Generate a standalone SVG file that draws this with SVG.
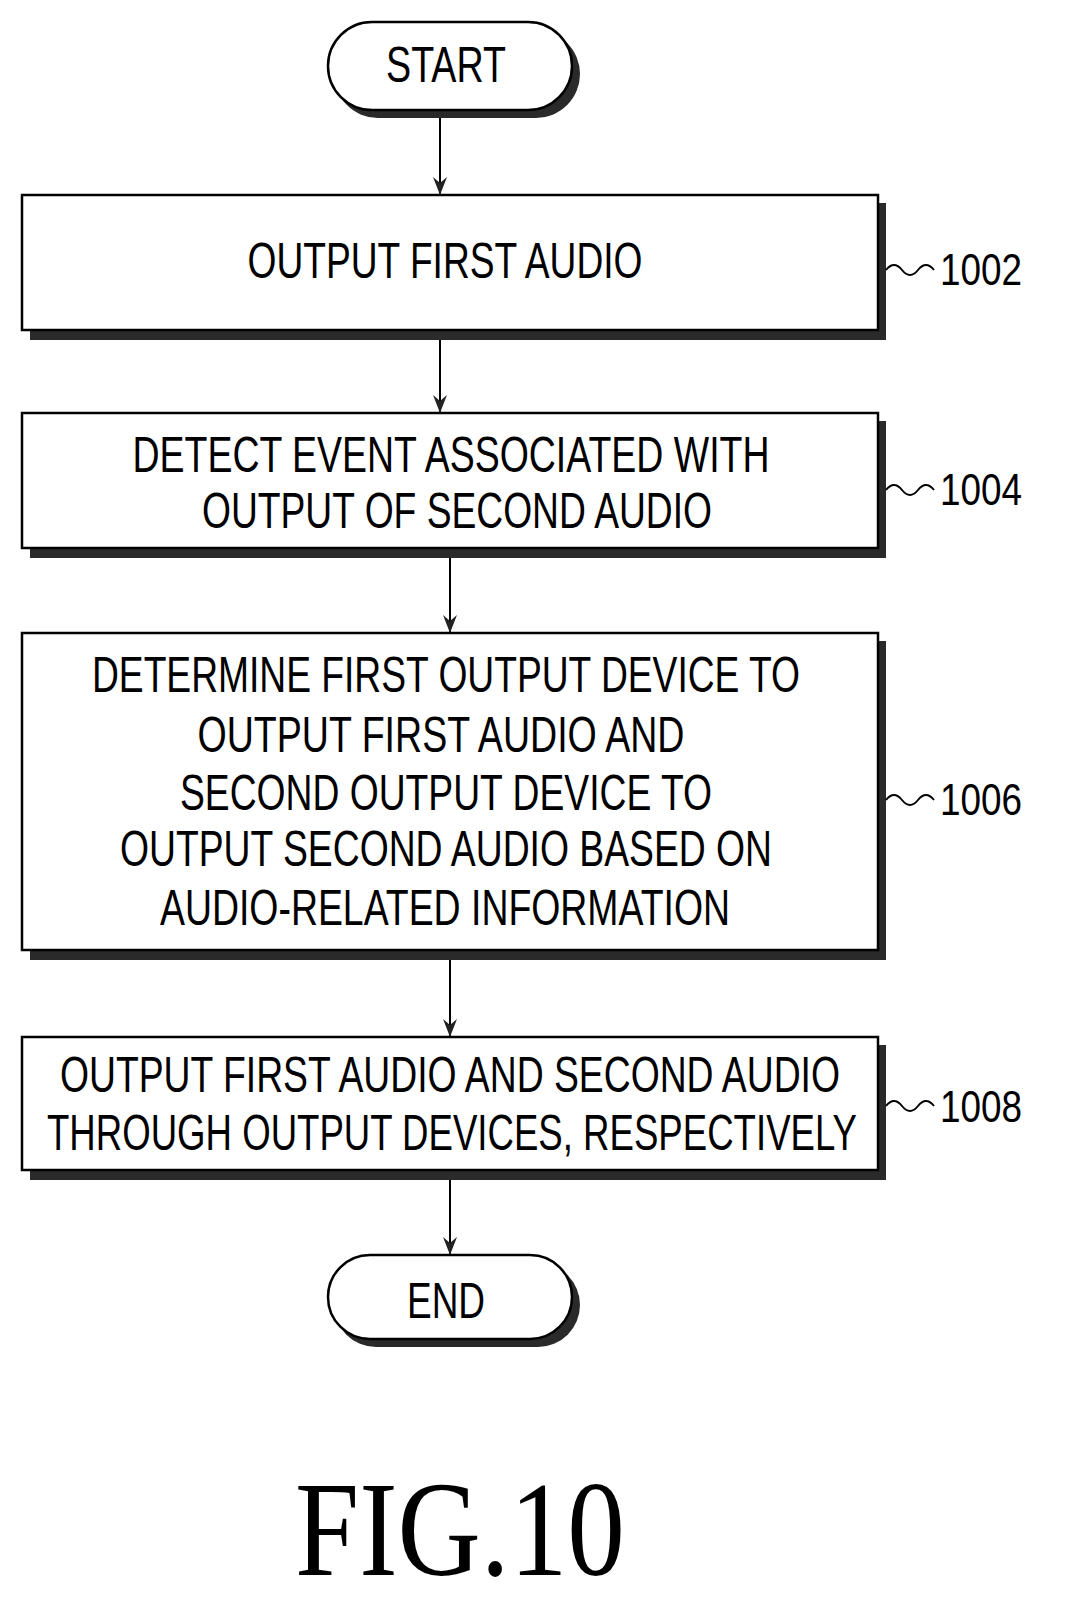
<svg xmlns="http://www.w3.org/2000/svg" width="1066" height="1607" viewBox="0 0 1066 1607">
<style>
.sh{fill:#2a2a2a}
.bx{fill:#fff;stroke:#000;stroke-width:2.5}
.t{font-family:"Liberation Sans",Arial,sans-serif;font-size:50px;fill:#000;text-anchor:middle}
.n{font-family:"Liberation Sans",Arial,sans-serif;font-size:44px;fill:#000}
.c{stroke:#000;stroke-width:2;fill:none}
</style>
<defs><marker id="a" markerWidth="18" markerHeight="14" refX="18" refY="7" orient="auto" markerUnits="userSpaceOnUse" viewBox="0 0 18 14"><path d="M0,0 L18,7 L0,14 L6,7 Z" fill="#222"/></marker></defs>
<rect width="1066" height="1607" fill="#fff"/>
<g id="start"><rect class="sh" x="334" y="30" width="246" height="88" rx="44"/><rect class="bx" x="328" y="22" width="244" height="88" rx="44"/><text class="t" x="446" y="82" textLength="120" lengthAdjust="spacingAndGlyphs">START</text></g>
<g id="n1002"><rect class="sh" x="30" y="203" width="856" height="137"/><rect class="bx" x="22" y="195" width="856" height="135"/><text class="t" x="445" y="278" textLength="395" lengthAdjust="spacingAndGlyphs">OUTPUT FIRST AUDIO</text></g>
<g id="n1004"><rect class="sh" x="30" y="421" width="856" height="137"/><rect class="bx" x="22" y="413" width="856" height="135"/><text class="t" x="451" y="472" textLength="637" lengthAdjust="spacingAndGlyphs">DETECT EVENT ASSOCIATED WITH</text><text class="t" x="457" y="528" textLength="510" lengthAdjust="spacingAndGlyphs">OUTPUT OF SECOND AUDIO</text></g>
<g id="n1006"><rect class="sh" x="30" y="641" width="856" height="319"/><rect class="bx" x="22" y="633" width="856" height="317"/><text class="t" x="446" y="692" textLength="708" lengthAdjust="spacingAndGlyphs">DETERMINE FIRST OUTPUT DEVICE TO</text><text class="t" x="441" y="752" textLength="487" lengthAdjust="spacingAndGlyphs">OUTPUT FIRST AUDIO AND</text><text class="t" x="446" y="810" textLength="532" lengthAdjust="spacingAndGlyphs">SECOND OUTPUT DEVICE TO</text><text class="t" x="446" y="866" textLength="652" lengthAdjust="spacingAndGlyphs">OUTPUT SECOND AUDIO BASED ON</text><text class="t" x="445" y="925" textLength="570" lengthAdjust="spacingAndGlyphs">AUDIO-RELATED INFORMATION</text></g>
<g id="n1008"><rect class="sh" x="30" y="1045" width="856" height="135"/><rect class="bx" x="22" y="1037" width="856" height="133"/><text class="t" x="450" y="1092" textLength="780" lengthAdjust="spacingAndGlyphs">OUTPUT FIRST AUDIO AND SECOND AUDIO</text><text class="t" x="452" y="1150" textLength="810" lengthAdjust="spacingAndGlyphs">THROUGH OUTPUT DEVICES, RESPECTIVELY</text></g>
<g id="end"><rect class="sh" x="334" y="1263" width="246" height="84" rx="42"/><rect class="bx" x="328" y="1255" width="244" height="84" rx="42"/><text class="t" x="446" y="1318" textLength="78" lengthAdjust="spacingAndGlyphs">END</text></g>
<g id="labels">
<path class="c" d="M886,270 q8,-10 16,0 t16,0 t16,0"/><text class="n" x="940" y="285" textLength="82" lengthAdjust="spacingAndGlyphs">1002</text>
<path class="c" d="M886,490 q8,-10 16,0 t16,0 t16,0"/><text class="n" x="940" y="505" textLength="82" lengthAdjust="spacingAndGlyphs">1004</text>
<path class="c" d="M886,800 q8,-10 16,0 t16,0 t16,0"/><text class="n" x="940" y="815" textLength="82" lengthAdjust="spacingAndGlyphs">1006</text>
<path class="c" d="M886,1106 q8,-10 16,0 t16,0 t16,0"/><text class="n" x="940" y="1122" textLength="82" lengthAdjust="spacingAndGlyphs">1008</text>
</g>
<g id="connectors">
<line class="c" x1="440" y1="118" x2="440" y2="195" marker-end="url(#a)"/>
<line class="c" x1="440" y1="340" x2="440" y2="413" marker-end="url(#a)"/>
<line class="c" x1="450" y1="558" x2="450" y2="633" marker-end="url(#a)"/>
<line class="c" x1="450" y1="960" x2="450" y2="1037" marker-end="url(#a)"/>
<line class="c" x1="450" y1="1180" x2="450" y2="1255" marker-end="url(#a)"/>
</g>
<text x="460" y="1575" font-family="Liberation Serif,'Times New Roman',serif" font-size="136" text-anchor="middle" textLength="330" lengthAdjust="spacingAndGlyphs">FIG.10</text>
</svg>
